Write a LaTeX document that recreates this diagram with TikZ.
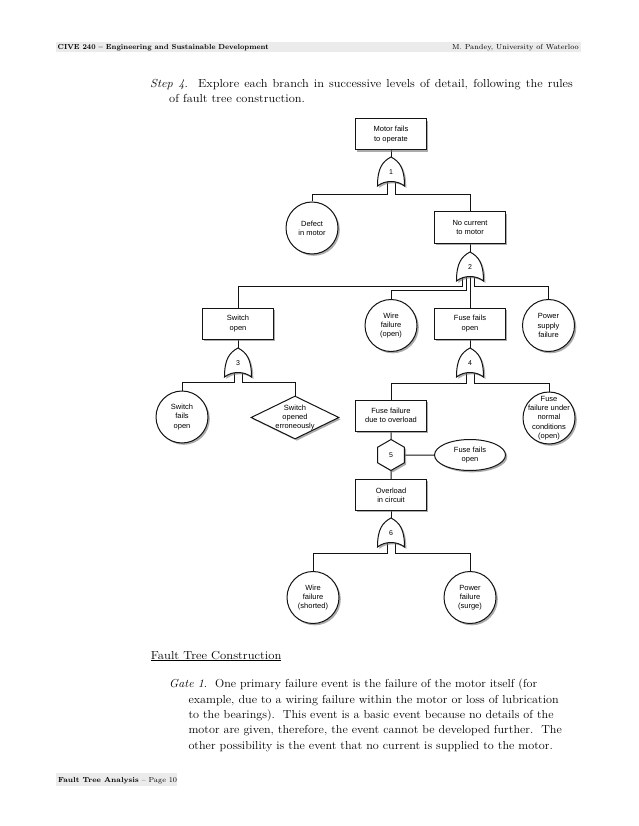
\documentclass[tikz,border=0pt]{standalone}
\usepackage{fontspec}
\newfontfamily\diagfont{Liberation Sans}
\usetikzlibrary{shapes.geometric,shadows,backgrounds}
\definecolor{hdrgray}{gray}{0.92}
\definecolor{linecol}{gray}{0.08}
\newcommand\dfnt{\diagfont\fontsize{7.5}{9.3}\selectfont}
\newcommand\gfnt{\diagfont\fontsize{7}{8}\selectfont}
\newcommand\bfnt{\fontsize{11.6}{14}\selectfont}
\newcommand\hfnt{\fontsize{7.3}{8}\selectfont}
\newcommand\hx[2]{\scalebox{#1}[1]{#2}}
\begin{document}
\begin{tikzpicture}[x=1pt,y=-1pt,
  ln/.style={line width=1pt, draw=linecol},
  shad/.style={drop shadow={shadow xshift=1.8pt, shadow yshift=-1.8pt, opacity=0.6, fill=black!55}},
  ev/.style={ln, fill=white, shad, font=\dfnt, align=center, inner sep=0pt},
  evbox/.style={ev, rectangle, minimum width=71pt, minimum height=31pt},
  evcirc/.style={ev, circle, minimum size=52pt},
  evdiam/.style={ev, diamond, minimum width=88pt, minimum height=43pt},
  evhex/.style={ev, regular polygon, regular polygon sides=6, shape border rotate=30, minimum size=31pt, font=\gfnt},
  evell/.style={ev, ellipse, minimum width=71pt, minimum height=31pt},
  intxt/.style={font=\dfnt, align=center, inner sep=0pt},
  txt/.style={anchor=base west, inner sep=0pt, font=\bfnt},
  orgate/.pic={
    \path[ln, fill=white, shad] (0,-15) .. controls (8.5,-10.5) and (13.5,-4) .. (13.5,14)
      .. controls (6,8) and (-6,8) .. (-13.5,14)
      .. controls (-13.5,-4) and (-8.5,-10.5) .. (0,-15) -- cycle;
    \node[font=\gfnt, inner sep=0pt] (-n) at (0,0.5) {#1};
    \coordinate (-top) at (0,-15);
    \coordinate (-ll) at (-7.3,10.5);
    \coordinate (-l) at (-4,10);
    \coordinate (-c) at (0,9.5);
    \coordinate (-r) at (4.5,10);
  }]
\useasboundingbox (0,0) rectangle (638,826);
\begin{pgfonlayer}{background}
\fill[white] (0,0) rectangle (638,826);
\end{pgfonlayer}

% header and footer
\fill[hdrgray] (56,42) rectangle (581,52.5);
\node[anchor=base west, inner sep=0pt, font=\hfnt\bfseries] (hl) at (57.5,50) {\hx{0.93}{CIVE 240 -- Engineering and Sustainable Development}};
\node[anchor=base east, inner sep=0pt, font=\hfnt] (hr) at (579,50) {M. Pandey, University of Waterloo};
\fill[hdrgray] (56,773) rectangle (177,786);
\node[anchor=base west, inner sep=0pt, font=\hfnt] (ft) at (58,782.5) {\textbf{Fault Tree Analysis} -- Page 10};

% texts
\node[txt] (s1) at (150,88) {\hx{1.07}{\makebox[395pt][s]{\textit{Step 4}.\ \ Explore each branch in successive levels of detail, following the rules}}};
\node[txt] (s2) at (169,102.5) {\hx{1.07}{of fault tree construction.}};
\node[txt] (ftc) at (150.7,659) {\hx{1.09}{\underline{Fault Tree Construction}}};
\node[txt] (p1) at (169,687.7) {\hx{1.04}{\textit{Gate 1}.\ \ One primary failure event is the failure of the motor itself (for}};
\node[txt] (p2) at (188.3,703) {\hx{1.05}{example, due to a wiring failure within the motor or loss of lubrication}};
\node[txt] (p3) at (188.3,718.3) {\hx{1.05}{to the bearings).\ \ This event is a basic event because no details of the}};
\node[txt] (p4) at (188.3,733.6) {\hx{1.05}{motor are given, therefore, the event cannot be developed further.\ \ The}};
\node[txt] (p5) at (188.3,749) {\hx{1.05}{other possibility is the event that no current is supplied to the motor.}};

% events
\node[evbox] (top) at (391,134.5) {Motor fails\\to operate};
\node[evcirc] (defect) at (312,228) {Defect\\in motor};
\node[evbox] (nocur) at (470,227.5) {No current\\to motor};
\node[evbox] (swopen) at (238,323.5) {Switch\\open};
\node[evcirc] (wireo) at (391,325.5) {Wire\\failure\\(open)};
\node[evbox] (fuseo) at (470,323.5) {Fuse fails\\open};
\node[evcirc] (psf) at (548.5,325.5) {Power\\supply\\failure};
\node[evcirc] (swf) at (182,417) {Switch\\fails\\open};
\node[evdiam, label={[intxt]center:Switch\\opened\\erroneously}] (swe) at (295,417.5) {};
\node[evbox] (ffo) at (391,415.5) {Fuse failure\\due to overload};
\node[evcirc, label={[intxt]center:Fuse\\failure under\\normal\\conditions\\(open)}] (ffn) at (549,418) {};
\node[evhex] (hex5) at (391,455) {5};
\node[evell] (ffopen) at (470,455) {Fuse fails\\open};
\node[evbox] (ovl) at (391,495) {Overload\\in circuit};
\node[evcirc] (wfs) at (313,597.5) {Wire\\failure\\(shorted)};
\node[evcirc] (pfs) at (470,597.5) {Power\\failure\\(surge)};

% gates
\pic (g1) at (391,172) {orgate=1};
\pic (g2) at (470,267) {orgate=2};
\pic (g3) at (238,363) {orgate=3};
\pic (g4) at (470,363) {orgate=4};
\pic (g6) at (391,533) {orgate=6};

% connectors
\begin{pgfonlayer}{background}
\draw[ln] (top.south) -- (g1-top);
\draw[ln] (g1-l) -- ++(0,12.5) -| (defect.north);
\draw[ln] (g1-r) -- ++(0,12.5) -| (nocur.north);
\draw[ln] (nocur.south) -- (g2-top);
\draw[ln] (g2-ll) -- ++(0,8.5) -| (swopen.north);
\draw[ln] (g2-l) -- ++(0,13) -| (wireo.north);
\draw[ln] (g2-c) -- (fuseo.north);
\draw[ln] (g2-r) -- ++(0,9) -| (psf.north);
\draw[ln] (swopen.south) -- (g3-top);
\draw[ln] (g3-l) -- ++(0,9.5) -| (swf.north);
\draw[ln] (g3-r) -- ++(0,9.5) -| (swe.north);
\draw[ln] (fuseo.south) -- (g4-top);
\draw[ln] (g4-l) -- ++(0,10) -| (ffo.north);
\draw[ln] (g4-r) -- ++(0,10) -| (ffn.north);
\draw[ln] (ffo.south) -- (hex5.north);
\draw[ln] (hex5.south) -- (ovl.north);
\draw[ln] (hex5.east) -- (ffopen.west);
\draw[ln] (ovl.south) -- (g6-top);
\draw[ln] (g6-l) -- ++(0,10) -| (wfs.north);
\draw[ln] (g6-r) -- ++(0,10) -| (pfs.north);
\end{pgfonlayer}
\end{tikzpicture}
\end{document}
